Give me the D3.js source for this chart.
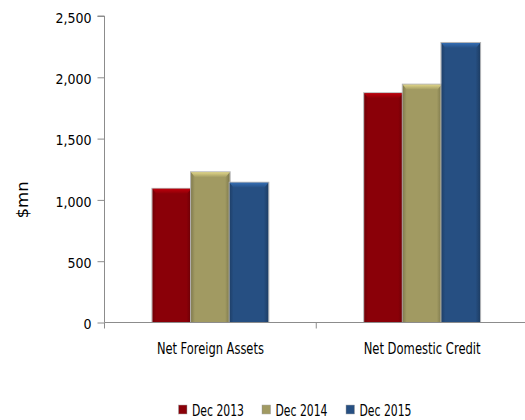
<!DOCTYPE html>
<html>
<head>
<meta charset="utf-8">
<script src="https://cdn.jsdelivr.net/npm/d3@7"></script>
<style>
  html, body { margin: 0; padding: 0; background: #fff; }
  svg text { font-family: "DejaVu Sans Condensed", "Open Sans", sans-serif; fill: #000; }
</style>
</head>
<body>
<svg id="chart" width="525" height="420"></svg>
<script>
const categories = ["Net Foreign Assets", "Net Domestic Credit"];
const seriesNames = ["Dec 2013", "Dec 2014", "Dec 2015"];
const dec2013 = [1090, 1870];
const dec2014 = [1225, 1940];
const dec2015 = [1140, 2280];
const yTicks = [0, 500, 1000, 1500, 2000, 2500];
const seriesColors = ["#8a0008", "#a19a62", "#264f82"];

const values = [dec2013, dec2014, dec2015];
const svg = d3.select("#chart");
const margin = { left: 104.5, right: 0, top: 16, bottom: 97.5 };
const W = 525, H = 420;

const x = d3.scaleBand().domain(categories).range([margin.left, W + 3]).paddingInner(0).paddingOuter(0);
const xs = d3.scaleBand().domain(seriesNames).range([0, x.bandwidth()]).paddingInner(0).paddingOuter(1.24);
const y = d3.scaleLinear().domain([0, 2500]).range([H - margin.bottom, margin.top]);

// condensed, tall label text: fixed size, squeezed to a set run length
function fitText(sel, len) {
  sel.attr("font-size", 16).attr("textLength", len).attr("lengthAdjust", "spacingAndGlyphs");
}

// gradients for the bevelled bar look
const defs = svg.append("defs");
seriesColors.forEach((c, i) => {
  const base = d3.color(c);
  const g = defs.append("linearGradient").attr("id", "side" + i).attr("x1", 0).attr("x2", 1).attr("y1", 0).attr("y2", 0);
  g.append("stop").attr("offset", "0%").attr("stop-color", base.darker(0.6));
  g.append("stop").attr("offset", "10%").attr("stop-color", base);
  g.append("stop").attr("offset", "88%").attr("stop-color", base);
  g.append("stop").attr("offset", "100%").attr("stop-color", base.darker(0.7));
  const t = defs.append("linearGradient").attr("id", "top" + i).attr("x1", 0).attr("x2", 0).attr("y1", 0).attr("y2", 1);
  t.append("stop").attr("offset", "0%").attr("stop-color", base.brighter(0.9));
  t.append("stop").attr("offset", "100%").attr("stop-color", base);
});

// y axis
const yAxis = d3.axisLeft(y).tickValues(yTicks).tickSize(7).tickPadding(6).tickFormat(d3.format(","));
const ya = svg.append("g").attr("transform", `translate(${margin.left},0)`).call(yAxis);
ya.select(".domain").attr("stroke", "#8c8c8c").attr("d", `M-7,${y(2500)}H0V${y(0)}`);
ya.selectAll(".tick line").attr("stroke", "#8c8c8c");
ya.selectAll(".tick text").attr("font-size", 14).attr("font-family", null).attr("dy", "0.45em");

// bars
const groups = svg.append("g").selectAll("g").data(categories).join("g")
  .attr("transform", d => `translate(${x(d)},0)`);

groups.each(function(cat, ci) {
  const g = d3.select(this);
  seriesNames.forEach((s, si) => {
    const v = values[si][ci];
    const bx = xs(s), bw = xs.bandwidth();
    const by = y(v), bh = y(0) - y(v);
    // soft shadow
    g.append("rect").attr("x", bx - 0.5).attr("y", by - 0.5).attr("width", bw + 1).attr("height", bh + 0.5)
      .attr("fill", "none").attr("stroke", "#b5b5b5").attr("stroke-width", 1);
    g.append("rect").attr("x", bx).attr("y", by).attr("width", bw).attr("height", bh)
      .attr("fill", `url(#side${si})`);
    g.append("path")
      .attr("d", `M${bx},${by}H${bx + bw}L${bx + bw - 4},${by + 5}H${bx + 4}Z`)
      .attr("fill", `url(#top${si})`);
  });
});

// x axis
const xa = svg.append("g").attr("transform", `translate(0,${y(0)})`);
xa.append("path").attr("d", `M${margin.left},0H${W}`).attr("stroke", "#8c8c8c").attr("fill", "none");
[margin.left, x(categories[1])].forEach(t => {
  xa.append("line").attr("x1", t).attr("x2", t).attr("y1", 0).attr("y2", 6).attr("stroke", "#8c8c8c");
});
const catLen = [107, 117];
xa.selectAll("text.cat").data(categories).join("text").attr("class", "cat")
  .attr("x", d => x(d) + x.bandwidth() / 2).attr("y", 31.5)
  .attr("text-anchor", "middle").text(d => d)
  .each(function(d, i) { fitText(d3.select(this), catLen[i]); });

// y label
svg.append("text").attr("transform", `translate(28,${y(1000)}) rotate(-90)`)
  .attr("text-anchor", "middle").text("$mn")
  .call(fitText, 37);

// legend
const legendX = [178.5, 262, 346];
const lg = svg.append("g").selectAll("g").data(seriesNames).join("g")
  .attr("transform", (d, i) => `translate(${legendX[i]},405)`);
lg.append("rect").attr("width", 8.5).attr("height", 9).attr("fill", (d, i) => `url(#side${i})`)
  .attr("stroke", "#aaa").attr("stroke-width", 0.5);
lg.append("text").attr("x", 13.5).attr("y", 10.8).text(d => d)
  .call(fitText, 52);
</script>
</body>
</html>
